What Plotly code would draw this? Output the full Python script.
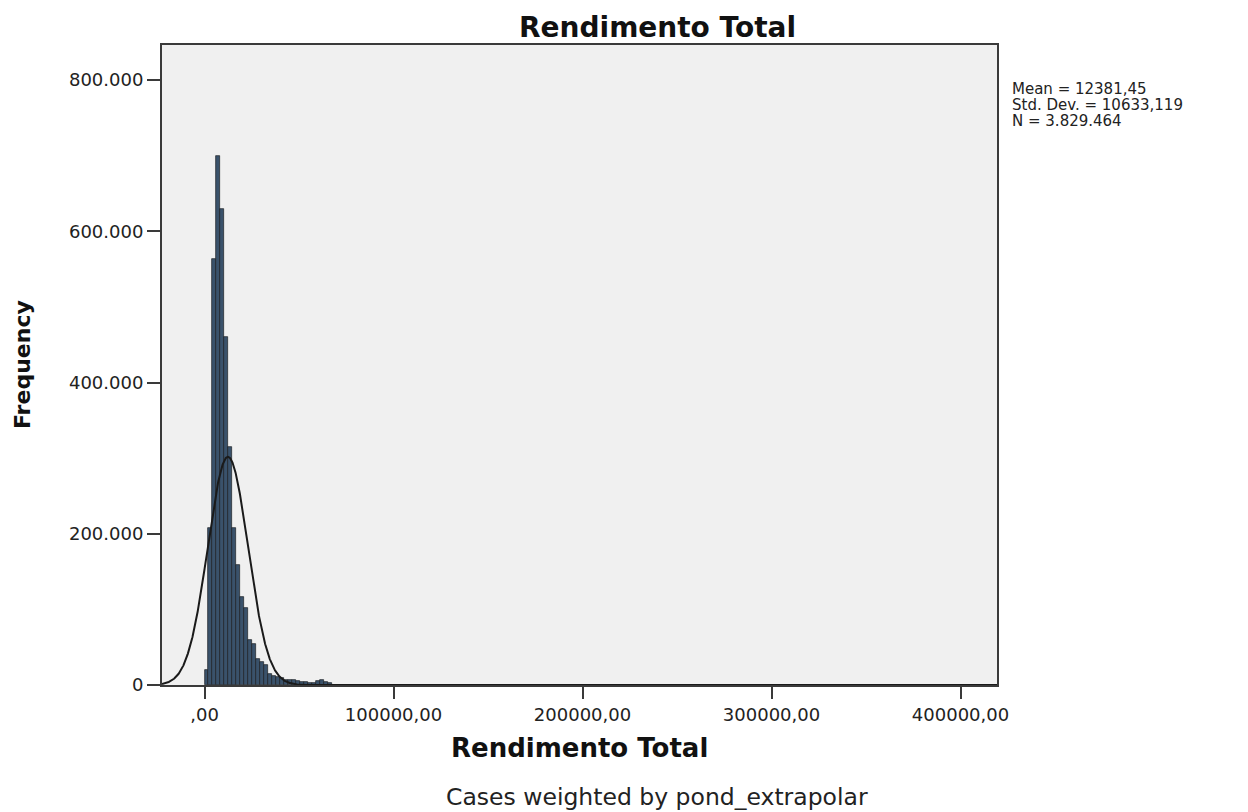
import numpy as np
import plotly.graph_objects as go

# Histogram of "Rendimento Total" (weighted by pond_extrapolar)
bin_start = 0.0
bin_width = 2100.0
counts = [
    20000, 207000, 563000, 700000, 630000, 460000, 315000, 207000,
    159000, 116000, 102000, 60000, 54000, 35000, 30000, 26000,
    15000, 12000, 10000, 9000, 7000, 6000, 6000, 5000,
    4000, 4000, 3000, 3000, 5000, 6000, 4000, 2000,
]

# Summary statistics shown beside the chart
mean_val = 12381.45
std_val = 10633.119
n_val = 3829464

x_tickvals = [0, 100000, 200000, 300000, 400000]
x_ticktext = [",00", "100000,00", "200000,00", "300000,00", "400000,00"]
y_tickvals = [0, 200000, 400000, 600000, 800000]
y_ticktext = ["0", "200.000", "400.000", "600.000", "800.000"]

x_range = [-22500, 419300]
y_range = [0, 846300]

edges = bin_start + bin_width * np.arange(len(counts))
centers = edges + bin_width / 2

# Normal curve scaled to the histogram (N * bin width * pdf)
xs = np.linspace(x_range[0], x_range[1], 3000)
pdf = np.exp(-0.5 * ((xs - mean_val) / std_val) ** 2) / (std_val * np.sqrt(2 * np.pi))
curve = n_val * bin_width * pdf

fig = go.Figure()
fig.add_trace(go.Bar(
    x=centers, y=counts, width=bin_width,
    marker=dict(color="#3a526b", line=dict(color="#1b1f24", width=0.7)),
    showlegend=False, hoverinfo="x+y",
))
fig.add_trace(go.Scatter(
    x=xs, y=curve, mode="lines",
    line=dict(color="#1a1a1a", width=2),
    showlegend=False, hoverinfo="skip",
))

FONT = "DejaVu Sans, Verdana, sans-serif"
tick_font = dict(family=FONT, size=18, color="#222222")


def fmt_dec(v, nd):
    return f"{v:.{nd}f}".replace(".", ",")


stats_lines = [
    "Mean = " + fmt_dec(mean_val, 2),
    "Std. Dev. = " + fmt_dec(std_val, 3),
    "N = " + f"{n_val:,}".replace(",", "."),
]

annotations = [
    dict(text="<b>Rendimento Total</b>", xref="paper", yref="paper",
         x=0.593, y=1.0, yshift=18, xanchor="center", yanchor="middle",
         showarrow=False, font=dict(family=FONT, size=28, color="#111111")),
    dict(text="<b>Rendimento Total</b>", xref="paper", yref="paper",
         x=0.5, y=0, yshift=-63, xanchor="center", yanchor="middle",
         showarrow=False, font=dict(family=FONT, size=26, color="#111111")),
    dict(text="<b>Frequency</b>", xref="paper", yref="paper",
         x=0, xshift=-140, y=0.5, xanchor="center", yanchor="middle",
         textangle=-90, showarrow=False,
         font=dict(family=FONT, size=22, color="#111111")),
    dict(text="Cases weighted by pond_extrapolar", xref="paper", yref="paper",
         x=0.593, y=0, yshift=-112, xanchor="center", yanchor="middle",
         showarrow=False, font=dict(family=FONT, size=23.5, color="#222222")),
]
for i, line in enumerate(stats_lines):
    annotations.append(dict(
        text=line, xref="paper", yref="paper", x=1, xshift=14,
        y=1.0, yshift=-(44 + 16 * i),
        xanchor="left", yanchor="middle", align="left",
        showarrow=False, borderpad=0,
        font=dict(family=FONT, size=15, color="#222222"),
    ))

fig.update_layout(
    width=1248, height=812,
    margin=dict(l=162, r=251, t=45, b=127),
    paper_bgcolor="white",
    plot_bgcolor="#f0f0f0",
    bargap=0,
    font=dict(family=FONT, color="#222222"),
    xaxis=dict(
        range=x_range, tickvals=x_tickvals, ticktext=x_ticktext,
        showgrid=False, zeroline=False,
        showline=True, mirror=True, linecolor="#3a3a3a", linewidth=2,
        ticks="outside", ticklen=12, tickwidth=2, tickcolor="#3a3a3a",
        tickfont=tick_font,
    ),
    yaxis=dict(
        range=y_range, tickvals=y_tickvals, ticktext=y_ticktext,
        showgrid=False, zeroline=False,
        showline=True, mirror=True, linecolor="#3a3a3a", linewidth=2,
        ticks="outside", ticklen=13, tickwidth=2, tickcolor="#3a3a3a",
        tickfont=tick_font,
    ),
    annotations=annotations,
)

fig.write_html("out.html")
